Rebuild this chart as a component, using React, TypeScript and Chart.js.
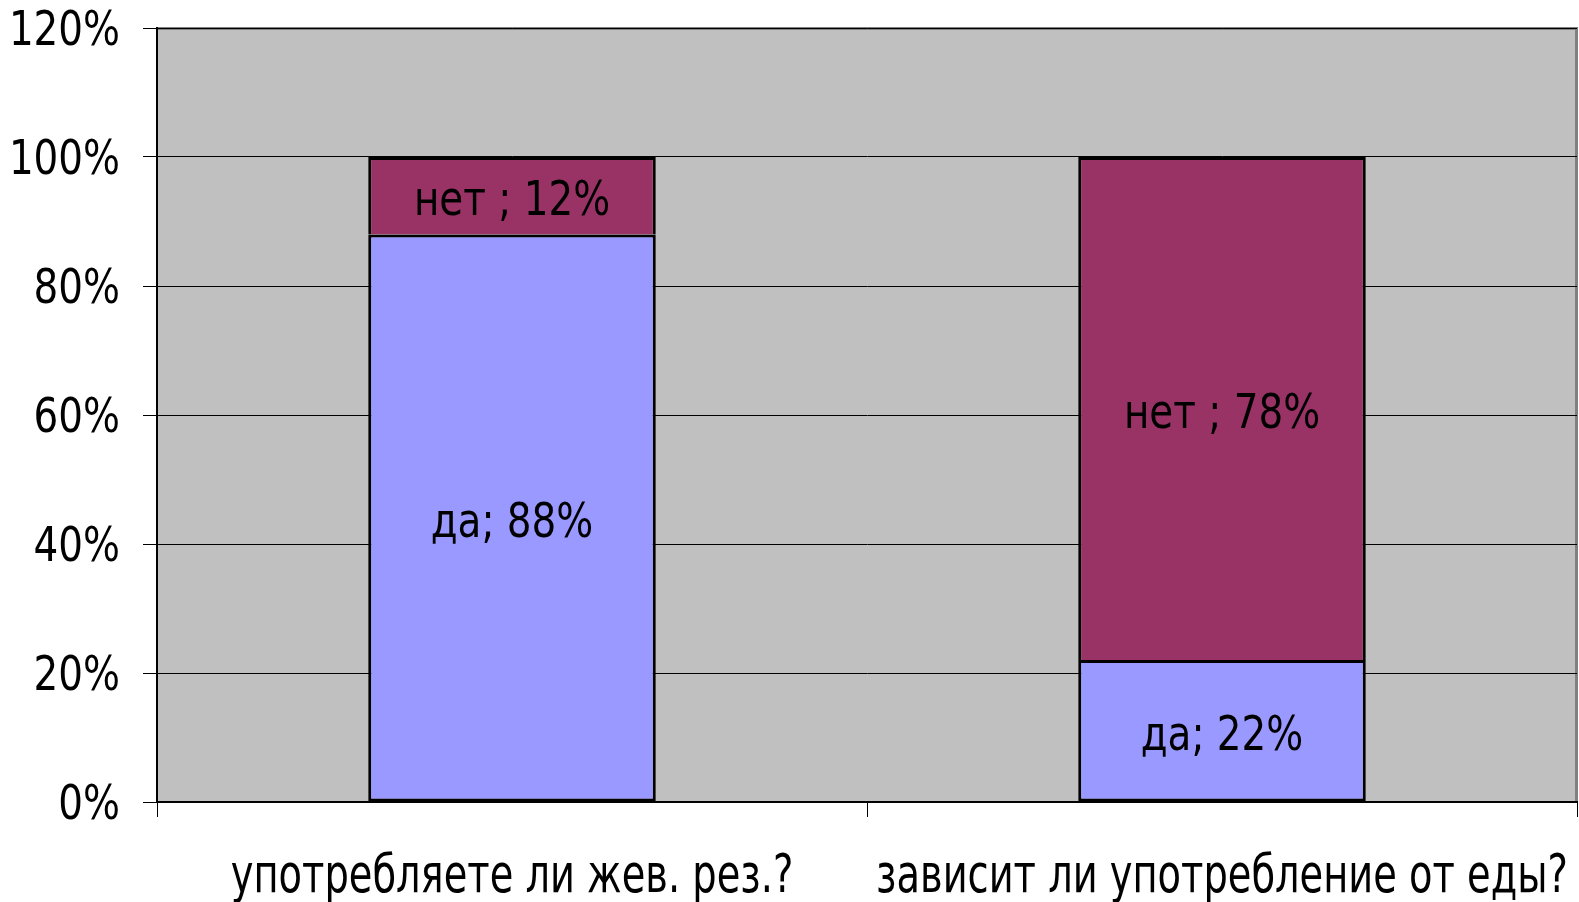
import React, { useEffect, useRef } from "react";
import { Chart, registerables } from "chart.js";

Chart.register(...registerables);

const categories = ["употребляете ли жев. рез.?", "зависит ли употребление от еды?"];
const yesValues = [88, 22];
const noValues = [12, 78];
const yesLabel = "да";
const noLabel = "нет ";
const yTicks = [0, 20, 40, 60, 80, 100, 120];

const COND = "'DejaVu Sans Condensed', 'DejaVu Sans', sans-serif";

function drawScaled(ctx: any, text: string, x: number, y: number, sx: number, align: string) {
  ctx.save();
  ctx.translate(x, y);
  ctx.scale(sx, 1);
  ctx.textAlign = align;
  ctx.fillText(text, 0, 0);
  ctx.restore();
}

const bgPlugin = {
  id: "plotBg",
  beforeDraw(chart: any) {
    const { ctx, chartArea } = chart;
    ctx.save();
    ctx.fillStyle = "#C0C0C0";
    ctx.fillRect(chartArea.left, chartArea.top, chartArea.right - chartArea.left, chartArea.bottom - chartArea.top);
    ctx.strokeStyle = "#808080";
    ctx.lineWidth = 3;
    ctx.beginPath();
    ctx.moveTo(chartArea.left, chartArea.top + 0.5);
    ctx.lineTo(chartArea.right - 0.5, chartArea.top + 0.5);
    ctx.lineTo(chartArea.right - 0.5, chartArea.bottom);
    ctx.stroke();
    ctx.restore();
  },
};

const textPlugin = {
  id: "texts",
  afterDraw(chart: any) {
    const { ctx } = chart;
    const xs = chart.scales.x;
    const ys = chart.scales.y;
    ctx.save();
    ctx.fillStyle = "#000";
    // y tick labels
    ctx.font = `48px ${COND}`;
    ctx.textBaseline = "alphabetic";
    yTicks.forEach((v) => {
      drawScaled(ctx, `${v}%`, 120, ys.getPixelForValue(v) + 17, 0.9, "right");
    });
    // x category labels
    ctx.font = `54px ${COND}`;
    categories.forEach((c, i) => {
      drawScaled(ctx, c, xs.getPixelForValue(i), 892, 0.79, "center");
    });
    // bar value labels
    ctx.font = `48px ${COND}`;
    ctx.textBaseline = "middle";
    chart.data.datasets.forEach((ds: any, di: number) => {
      const meta = chart.getDatasetMeta(di);
      meta.data.forEach((el: any, i: number) => {
        const { x, y, base } = el.getProps(["x", "y", "base"], true);
        drawScaled(ctx, `${ds.label}; ${ds.data[i]}%`, x, (y + base) / 2 + 7, 0.9, "center");
      });
    });
    ctx.restore();
  },
};

export default function App() {
  const ref = useRef<HTMLCanvasElement>(null);
  useEffect(() => {
    if (!ref.current) return;
    const chart = new Chart(ref.current, {
      type: "bar",
      data: {
        labels: categories,
        datasets: [
          {
            label: yesLabel,
            data: yesValues,
            backgroundColor: "#9999FF",
            borderColor: "#000",
            borderWidth: 3,
            borderSkipped: false,
            categoryPercentage: 1,
            barPercentage: 0.405,
          },
          {
            label: noLabel,
            data: noValues,
            backgroundColor: "#993366",
            borderColor: "#000",
            borderWidth: 3,
            borderSkipped: "start",
            categoryPercentage: 1,
            barPercentage: 0.405,
          },
        ],
      },
      options: {
        animation: false,
        responsive: false,
        maintainAspectRatio: false,
        layout: { padding: { top: 28, right: 2, left: 0, bottom: 0 } },
        plugins: { legend: { display: false }, tooltip: { enabled: false } },
        scales: {
          x: {
            stacked: true,
            offset: true,
            grid: { offset: true, drawOnChartArea: false, drawTicks: true, tickLength: 15, color: "#000", lineWidth: 1 },
            border: { color: "#000", width: 2 },
            ticks: { display: false },
            afterFit(scale: any) {
              scale.height = 100;
            },
          },
          y: {
            stacked: true,
            min: 0,
            max: 120,
            afterBuildTicks(scale: any) {
              scale.ticks = yTicks.map((v) => ({ value: v }));
            },
            grid: { color: "#000", lineWidth: 1, tickLength: 14 },
            border: { color: "#000", width: 2 },
            ticks: { display: false },
            afterFit(scale: any) {
              scale.width = 157;
            },
          },
        },
      },
      plugins: [bgPlugin, textPlugin],
    });
    return () => chart.destroy();
  }, []);
  return (
    <div style={{ position: "fixed", left: 0, top: 0, width: 1579, height: 902, background: "#fff" }}>
      <canvas ref={ref} width={1579} height={902} style={{ width: 1579, height: 902 }} />
    </div>
  );
}
